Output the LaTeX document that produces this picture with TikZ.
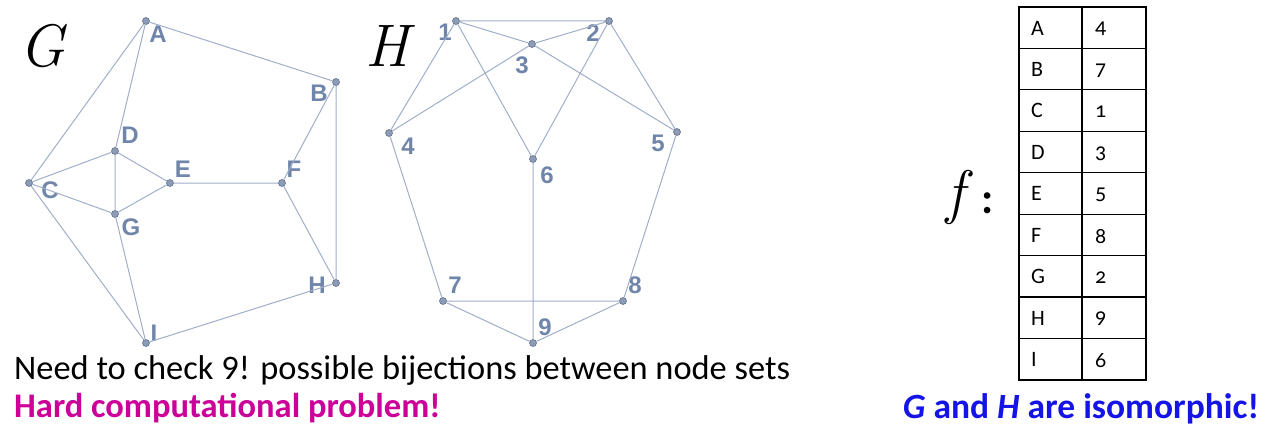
\documentclass[tikz,border=0pt]{standalone}
\usepackage{fontspec}
\setmainfont{Carlito}
\newfontfamily\lblfont{Liberation Sans}
\newfontfamily\oldnum{Carlito}[Numbers=OldStyle]
\newfontfamily\serifit{Latin Modern Roman}
\definecolor{edgecol}{RGB}{160,174,200}
\definecolor{vtxfill}{RGB}{140,155,182}
\definecolor{vtxdraw}{RGB}{100,115,140}
\definecolor{lblcol}{RGB}{112,133,170}
\definecolor{hardcol}{RGB}{204,0,153}
\definecolor{isocol}{RGB}{20,20,230}

\begin{document}
\begin{tikzpicture}[x=1pt,y=-1pt,
	vtx/.style={circle,fill=vtxfill,draw=vtxdraw,line width=0.6pt,inner sep=0pt,minimum size=7pt},
	vlbl/.style={text=lblcol,font=\lblfont\bfseries\fontsize{24}{24}\selectfont,inner sep=0pt},
	edge/.style={draw=edgecol,line width=1pt},
	title/.style={font=\serifit\itshape\fontsize{60}{60}\selectfont,inner sep=0pt},
	celltext/.style={font=\fontsize{22}{22}\selectfont,inner sep=0pt}]
			%%%%% START %%%%%
			\useasboundingbox (0,0) rectangle (1268,433);
			
			\node[title] (titleG) at (42,46) {G};
			\node[title] (titleH) at (387,46) {H};
			
			% graph G
			\foreach \n/\x/\y in {A/146/21, B/336/82, C/29/183, D/115/151, E/170/183,
				F/282/183, G/115/214, H/336/283, I/146/343}
				\node[vtx] (\n) at (\x,\y) {};
			\foreach \n/\x/\y in {A/158/34, B/319/93, C/50/190, D/130/135, E/183/169,
				F/294/169, G/131/227, H/317/285, I/154/333}
				\node[vlbl] (l\n) at (\x,\y) {\n};
			\draw[edge] (A) -- (B) (A) -- (C) (A) -- (D) (B) -- (F) (B) -- (H);
			\draw[edge] (C) -- (D) (C) -- (G) (C) -- (I) (D) -- (G) (D) -- (E);
			\draw[edge] (E) -- (G) (E) -- (F) (F) -- (H) (G) -- (I) (I) -- (H);
			
			% graph H
			\foreach \n/\x/\y in {1/456/21, 2/609/21, 3/532/44, 4/389/133, 5/677/132,
				6/533/159, 7/443/301, 8/623/301, 9/533/343}
				\node[vtx] (h\n) at (\x,\y) {};
			\foreach \n/\x/\y in {1/445/32, 2/593/33, 3/522/65, 4/408/146, 5/658/143,
				6/547/175, 7/455/285, 8/635/285, 9/545/327}
				\node[vlbl] (lh\n) at (\x,\y) {\n};
			\draw[edge] (h1) -- (h2) (h1) -- (h3) (h1) -- (h4) (h1) -- (h6) (h2) -- (h3);
			\draw[edge] (h2) -- (h5) (h2) -- (h6) (h3) -- (h4) (h3) -- (h5) (h4) -- (h7);
			\draw[edge] (h5) -- (h8) (h6) -- (h9) (h7) -- (h8) (h7) -- (h9) (h8) -- (h9);
			
			% the bijection
			\node[title] (fname) at (955,197) {f};
			\node[inner sep=0pt,font=\bfseries\fontsize{44}{44}\selectfont] (fcolon) at (988,203) {:};
			\draw[line width=1.2pt] (1019,7) rectangle (1146,380);
			\draw[line width=1.2pt] (1082,7) -- (1082,380);
			\foreach \i in {1,...,8}
				\draw[line width=1.2pt] (1019,7+41.44*\i) -- (1146,7+41.44*\i);
			\foreach \l/\n [count=\i from 0] in {A/4, B/7, C/1, D/3, E/5, F/8, G/2, H/9, I/6} {
				\node[celltext,anchor=west] (c\l) at (1031,28+41.44*\i) {\l};
				\node[celltext,anchor=west] (v\l) at (1095,29+41.44*\i) {\oldnum\n};
			}
			
			% remarks
			\node[anchor=west,inner sep=0pt,font=\fontsize{34.4}{34.4}\selectfont] (need) at (14,371)
				{Need to check 9! possible bijections between node sets};
			\node[anchor=west,inner sep=0pt,text=hardcol,font=\bfseries\fontsize{34.5}{34.5}\selectfont] (hard) at (14,408)
				{Hard computational problem!};
			\node[inner sep=0pt,text=isocol,font=\bfseries\fontsize{35.5}{35.5}\selectfont] (iso) at (1081,409)
				{\textit{G} and \textit{H} are isomorphic!};
			
			%%%%% END %%%%%
\end{tikzpicture}
\end{document}
